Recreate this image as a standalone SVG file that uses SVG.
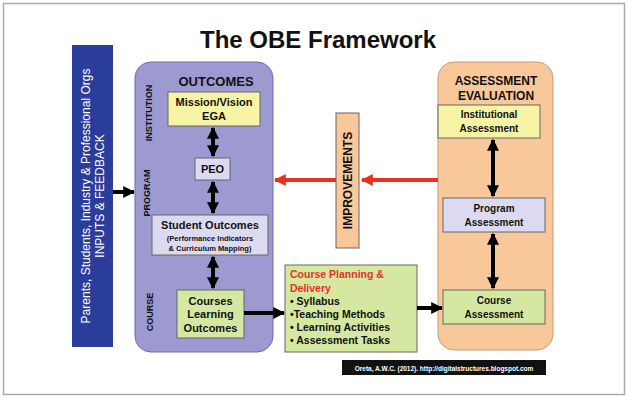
<svg xmlns="http://www.w3.org/2000/svg" width="630" height="400" viewBox="0 0 630 400">
<defs>
<style>
text{font-family:"Liberation Sans",Arial,sans-serif;font-weight:bold;fill:#111}
.bx{stroke:#666;stroke-width:1}
.c{text-anchor:middle}
.blk{stroke:#000;stroke-width:4;fill:none}
.red{stroke:#e8321e;stroke-width:4;fill:none}
</style>
<marker id="ab" viewBox="0 0 10 10" refX="9" refY="5" markerWidth="3" markerHeight="3" orient="auto-start-reverse"><path d="M0,0L10,5L0,10z" fill="#000"/></marker>
<marker id="ar" viewBox="0 0 10 10" refX="9" refY="5" markerWidth="3" markerHeight="3" orient="auto"><path d="M0,0L10,5L0,10z" fill="#e8321e"/></marker>
</defs>
<rect width="630" height="400" fill="#fff"/>
<rect x="3.5" y="3.5" width="621" height="391" fill="none" stroke="#aaa" stroke-width="1.5"/>
<text x="318" y="48" class="c" font-size="24">The OBE Framework</text>

<g id="inputs">
<rect x="72" y="45" width="41" height="302" fill="#2b3d9a"/>
<text transform="translate(90,196) rotate(-90)" class="c" font-size="12" style="fill:#fff;font-weight:normal">Parents, Students, Industry &amp; Professional  Orgs</text>
<text transform="translate(104,196) rotate(-90)" class="c" font-size="12" style="fill:#fff;font-weight:normal">INPUTS &amp; FEEDBACK</text>
</g>

<g id="outcomes">
<rect x="135" y="62" width="138" height="290" rx="16" fill="#9d9ad2" stroke="#6e6aa8"/>
<text x="216" y="86" class="c" font-size="13">OUTCOMES</text>
<text transform="translate(152,113) rotate(-90)" class="c" font-size="9">INSTITUTION</text>
<text transform="translate(150,193) rotate(-90)" class="c" font-size="9">PROGRAM</text>
<text transform="translate(153,312) rotate(-90)" class="c" font-size="9">COURSE</text>
</g>
<g id="mission"><rect x="168" y="92" width="92" height="34" class="bx" fill="#f8f4a6"/>
<text x="214" y="106" class="c" font-size="11">Mission/Vision</text><text x="214" y="120" class="c" font-size="11">EGA</text></g>
<g id="peo"><rect x="195" y="158" width="35" height="22" class="bx" fill="#dcdaf0"/>
<text x="212.5" y="173" class="c" font-size="11">PEO</text></g>
<g id="so"><rect x="152" y="215" width="116" height="40" class="bx" fill="#dcdaf0"/>
<text x="210" y="229" class="c" font-size="11">Student Outcomes</text>
<text x="210" y="241" class="c" font-size="7.5">(Performance Indicators</text>
<text x="210" y="251" class="c" font-size="7.5">&amp; Curriculum Mapping)</text></g>
<g id="clo"><rect x="177" y="290" width="67" height="48" class="bx" fill="#d4e8a2"/>
<text x="210.5" y="305" class="c" font-size="11">Courses</text><text x="210.5" y="318" class="c" font-size="11">Learning</text><text x="210.5" y="332" class="c" font-size="11">Outcomes</text></g>

<g id="improvements"><rect x="336" y="113" width="23" height="135" class="bx" fill="#f8c79a"/>
<text transform="translate(352,180.5) rotate(-90)" class="c" font-size="12">IMPROVEMENTS</text></g>

<g id="assessment">
<rect x="438" y="62" width="115" height="288" rx="16" fill="#f8c79a" stroke="#c89a70"/>
<text x="496" y="85" class="c" font-size="12">ASSESSMENT</text>
<text x="496" y="100" class="c" font-size="12">EVALUATION</text>
</g>
<g id="inst"><rect x="438" y="105" width="102" height="33" class="bx" fill="#f8f4a6"/>
<text x="489" y="118" class="c" font-size="10">Institutional</text><text x="489" y="132" class="c" font-size="10">Assessment</text></g>
<g id="prog"><rect x="443" y="198" width="102" height="34" class="bx" fill="#dcdaf0"/>
<text x="494" y="212" class="c" font-size="10">Program</text><text x="494" y="226" class="c" font-size="10">Assessment</text></g>
<g id="ca"><rect x="443" y="290" width="102" height="34" class="bx" fill="#d4e8a2"/>
<text x="494" y="304" class="c" font-size="10">Course</text><text x="494" y="318" class="c" font-size="10">Assessment</text></g>

<g id="cpd"><rect x="285" y="265" width="132" height="87" class="bx" fill="#d4e8a2"/>
<text x="290" y="278" font-size="10.5" style="fill:#e8321e">Course Planning &amp;</text>
<text x="290" y="292" font-size="10.5" style="fill:#e8321e">Delivery</text>
<text x="290" y="305" font-size="10.5">• Syllabus</text>
<text x="290" y="318" font-size="10.5">•Teaching Methods</text>
<text x="290" y="331" font-size="10.5">• Learning Activities</text>
<text x="290" y="344" font-size="10.5">• Assessment Tasks</text></g>

<g id="connectors">
<line x1="113" y1="192" x2="134" y2="192" class="blk" marker-end="url(#ab)"/>
<line x1="213" y1="128" x2="213" y2="156" class="blk" marker-start="url(#ab)" marker-end="url(#ab)"/>
<line x1="213" y1="182" x2="213" y2="213" class="blk" marker-start="url(#ab)" marker-end="url(#ab)"/>
<line x1="213" y1="257" x2="213" y2="288" class="blk" marker-start="url(#ab)" marker-end="url(#ab)"/>
<line x1="493" y1="140" x2="493" y2="196" class="blk" marker-start="url(#ab)" marker-end="url(#ab)"/>
<line x1="493" y1="234" x2="493" y2="288" class="blk" marker-start="url(#ab)" marker-end="url(#ab)"/>
<line x1="244" y1="313" x2="284" y2="313" class="blk" marker-end="url(#ab)"/>
<line x1="417" y1="308" x2="442" y2="308" class="blk" marker-end="url(#ab)"/>
<line x1="438" y1="180" x2="362" y2="180" class="red" marker-end="url(#ar)"/>
<line x1="336" y1="180" x2="275" y2="180" class="red" marker-end="url(#ar)"/>
</g>
<rect x="342" y="360" width="204" height="15" fill="#111"/>
<text x="444" y="370.5" class="c" font-size="6.5" style="fill:#fff">Oreta, A.W.C. (2012).  http://digitalstructures.blogspot.com</text>
</svg>
